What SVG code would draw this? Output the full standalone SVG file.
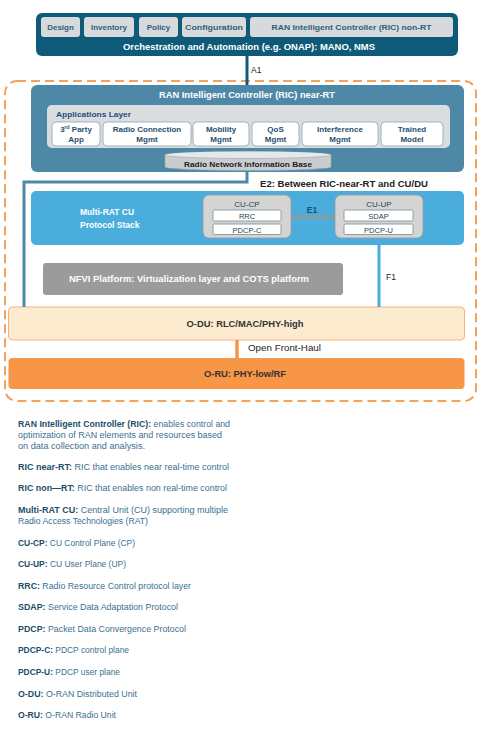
<svg xmlns="http://www.w3.org/2000/svg" width="482" height="731" viewBox="0 0 482 731">
<style>
text{font-family:"Liberation Sans",Arial,sans-serif;}
.b{font-weight:bold;}
.top{fill:#0f5a78;}
.gbox{fill:#d6dadd;}
.gt{fill:#2f5f78;font-size:8px;font-weight:bold;text-anchor:middle;}
.wt{fill:#ffffff;font-weight:bold;}
.app{fill:#ffffff;stroke:#8fa3ae;stroke-width:0.8;}
.at{fill:#1f4e6e;font-size:8px;font-weight:bold;text-anchor:middle;}
.sub{fill:#ffffff;stroke:#7a8a94;stroke-width:0.8;}
.st{fill:#2a3f50;font-size:7.5px;text-anchor:middle;}
.cu{fill:#d4d4d4;stroke:#9a9a9a;stroke-width:0.8;}
.lt{font-size:8.3px;fill:#3b6f8f;}
.lb{font-weight:bold;fill:#1b4e6a;}
.lbl{font-size:8.5px;fill:#222;font-weight:bold;}
</style>
<rect x="0" y="0" width="482" height="731" fill="#ffffff"/>

<!-- dashed boundary -->
<rect x="5" y="81" width="471" height="320" rx="12" fill="none" stroke="#f0a35e" stroke-width="2" stroke-dasharray="9,5"/>

<g id="orchestration">
  <rect x="36" y="13" width="422" height="43" rx="6" class="top"/>
  <rect x="41" y="17" width="39" height="20" rx="3" class="gbox"/>
  <rect x="84" y="17" width="50" height="20" rx="3" class="gbox"/>
  <rect x="139" y="17" width="39" height="20" rx="3" class="gbox"/>
  <rect x="182" y="17" width="64" height="20" rx="3" class="gbox"/>
  <rect x="250" y="17" width="203" height="20" rx="3" class="gbox"/>
  <text x="60.5" y="30" class="gt">Design</text>
  <text x="109" y="30" class="gt">Inventory</text>
  <text x="158.5" y="30" class="gt">Policy</text>
  <text x="214" y="30" class="gt" textLength="58" lengthAdjust="spacingAndGlyphs">Configuration</text>
  <text x="351.5" y="30" class="gt" textLength="160" lengthAdjust="spacingAndGlyphs">RAN Intelligent Controller (RIC) non-RT</text>
  <text x="249" y="50" class="wt" font-size="8.5" text-anchor="middle" textLength="252" lengthAdjust="spacingAndGlyphs">Orchestration and Automation (e.g. ONAP): MANO, NMS</text>
</g>

<g id="ric-near-rt">
  <rect x="31" y="85" width="433" height="87" rx="6" fill="#4d88a6"/>
  <text x="247" y="98" class="wt" font-size="8.5" text-anchor="middle" textLength="176" lengthAdjust="spacingAndGlyphs">RAN Intelligent Controller (RIC) near-RT</text>
  <rect x="47" y="105" width="403" height="43" rx="5" fill="#d9dde0"/>
  <text x="56" y="117" font-size="8" font-weight="bold" fill="#1f4e79" textLength="75" lengthAdjust="spacingAndGlyphs">Applications Layer</text>
  <rect x="52" y="122" width="48" height="24" rx="4" class="app"/>
  <rect x="103" y="122" width="88" height="24" rx="4" class="app"/>
  <rect x="193" y="122" width="56" height="24" rx="4" class="app"/>
  <rect x="252" y="122" width="47" height="24" rx="4" class="app"/>
  <rect x="302" y="122" width="76" height="24" rx="4" class="app"/>
  <rect x="381" y="122" width="62" height="24" rx="4" class="app"/>
  <text x="76" y="132" class="at">3<tspan font-size="5" dy="-3">rd</tspan><tspan dy="3"> Party</tspan></text>
  <text x="76" y="142" class="at">App</text>
  <text x="147" y="132" class="at">Radio Connection</text>
  <text x="147" y="142" class="at">Mgmt</text>
  <text x="221" y="132" class="at">Mobility</text>
  <text x="221" y="142" class="at">Mgmt</text>
  <text x="275.5" y="132" class="at">QoS</text>
  <text x="275.5" y="142" class="at">Mgmt</text>
  <text x="340" y="132" class="at">Interference</text>
  <text x="340" y="142" class="at">Mgmt</text>
  <text x="412" y="132" class="at">Trained</text>
  <text x="412" y="142" class="at">Model</text>
</g>

<g id="rnib">
  <path d="M165,155 A83,3.5 0 0 1 331,155 L331,167 A83,3.5 0 0 1 165,167 Z" fill="#c9cdd0" stroke="#9aa4aa" stroke-width="0.6"/>
  <path d="M165,155 A83,3.5 0 0 1 331,155 A83,3.5 0 0 1 165,155 Z" fill="#e6e8ea"/>
  <path d="M165,155 A83,3.5 0 0 0 331,155" fill="none" stroke="#9aa4aa" stroke-width="0.6"/>
  <text x="248" y="167" font-size="7.5" font-weight="bold" fill="#222" text-anchor="middle" textLength="128" lengthAdjust="spacingAndGlyphs">Radio Network Information Base</text>
</g>

<g id="multi-rat-cu">
  <rect x="31" y="191" width="433" height="54" rx="5" fill="#4aaddb"/>
  <text x="80" y="215" class="wt" font-size="8.5">Multi-RAT CU</text>
  <text x="80" y="228" class="wt" font-size="8.5">Protocol Stack</text>
</g>

<g id="cu-cp">
  <rect x="203" y="195" width="88" height="43" rx="6" class="cu"/>
  <text x="247" y="207" font-size="8" fill="#2a3f50" text-anchor="middle">CU-CP</text>
  <rect x="213" y="210" width="68" height="11" rx="1.5" class="sub"/>
  <text x="247" y="219" class="st">RRC</text>
  <rect x="213" y="224" width="68" height="10.5" rx="1.5" class="sub"/>
  <text x="247" y="232.5" class="st">PDCP-C</text>
</g>

<g id="cu-up">
  <rect x="335" y="195" width="88" height="43" rx="6" class="cu"/>
  <text x="379" y="207" font-size="8" fill="#2a3f50" text-anchor="middle">CU-UP</text>
  <rect x="344" y="210" width="69" height="11" rx="1.5" class="sub"/>
  <text x="378.5" y="219" class="st">SDAP</text>
  <rect x="344" y="224" width="69" height="10.5" rx="1.5" class="sub"/>
  <text x="378.5" y="232.5" class="st">PDCP-U</text>
</g>

<g id="nfvi">
  <rect x="43" y="263" width="300" height="32" rx="3" fill="#9b9b9b"/>
  <text x="189" y="282" class="wt" font-size="8.5" text-anchor="middle" textLength="240" lengthAdjust="spacingAndGlyphs">NFVI Platform: Virtualization layer and COTS platform</text>
</g>

<g id="o-du">
  <rect x="8.5" y="307" width="456" height="33" rx="4" fill="#fdebd0" stroke="#f4b183" stroke-width="1"/>
  <text x="245" y="327" font-size="8.5" font-weight="bold" fill="#333" text-anchor="middle" textLength="117" lengthAdjust="spacingAndGlyphs">O-DU: RLC/MAC/PHY-high</text>
</g>

<g id="o-ru">
  <rect x="8.5" y="358" width="456" height="31" rx="4" fill="#f79646"/>
  <text x="245" y="377" font-size="8.5" font-weight="bold" fill="#333" text-anchor="middle" textLength="82" lengthAdjust="spacingAndGlyphs">O-RU: PHY-low/RF</text>
</g>

<g id="connectors">
  <line x1="247" y1="56" x2="247" y2="85" stroke="#0f5a78" stroke-width="3"/>
  <polyline points="247,172 247,182 24,182 24,307" fill="none" stroke="#4d88a6" stroke-width="3"/>
  <line x1="379" y1="245" x2="379" y2="307" stroke="#4aaddb" stroke-width="3"/>
  <line x1="291" y1="217" x2="335" y2="217" stroke="#8a9ba5" stroke-width="3.5"/>
  <line x1="237" y1="340" x2="237" y2="358" stroke="#f79646" stroke-width="3.5"/>
  <text x="251" y="73" font-size="8.5" fill="#222">A1</text>
  <text x="260" y="187" class="lbl" textLength="168" lengthAdjust="spacingAndGlyphs">E2: Between RIC-near-RT and CU/DU</text>
  <text x="312" y="213" font-size="8.5" font-weight="bold" fill="#1f4e79" text-anchor="middle">E1</text>
  <text x="386" y="280" font-size="8.5" fill="#222">F1</text>
  <text x="248" y="351" font-size="8.5" fill="#222" textLength="73" lengthAdjust="spacingAndGlyphs">Open Front-Haul</text>
</g>

<g id="legend">
  <text x="18" y="427" class="lt" textLength="212" lengthAdjust="spacingAndGlyphs"><tspan class="lb">RAN Intelligent Controller (RIC):</tspan> enables control and</text>
  <text x="18" y="438" class="lt" textLength="204" lengthAdjust="spacingAndGlyphs">optimization of RAN elements and resources based</text>
  <text x="18" y="449" class="lt" textLength="127" lengthAdjust="spacingAndGlyphs">on  data collection and analysis.</text>
  <text x="18" y="470" class="lt" textLength="211" lengthAdjust="spacingAndGlyphs"><tspan class="lb">RIC near-RT:</tspan>  RIC that enables near real-time control</text>
  <text x="18" y="491" class="lt" textLength="209" lengthAdjust="spacingAndGlyphs"><tspan class="lb">RIC non—RT:</tspan> RIC that enables non real-time control</text>
  <text x="18" y="513" class="lt" textLength="210" lengthAdjust="spacingAndGlyphs"><tspan class="lb">Multi-RAT CU:</tspan> Central Unit (CU) supporting multiple</text>
  <text x="18" y="524" class="lt" textLength="130" lengthAdjust="spacingAndGlyphs">Radio Access Technologies (RAT)</text>
  <text x="18" y="546" class="lt" textLength="117" lengthAdjust="spacingAndGlyphs"><tspan class="lb">CU-CP:</tspan> CU Control Plane (CP)</text>
  <text x="18" y="567" class="lt" textLength="108" lengthAdjust="spacingAndGlyphs"><tspan class="lb">CU-UP:</tspan> CU User Plane (UP)</text>
  <text x="18" y="589" class="lt" textLength="173" lengthAdjust="spacingAndGlyphs"><tspan class="lb">RRC:</tspan> Radio Resource Control protocol layer</text>
  <text x="18" y="610" class="lt" textLength="160" lengthAdjust="spacingAndGlyphs"><tspan class="lb">SDAP:</tspan> Service Data Adaptation Protocol</text>
  <text x="18" y="632" class="lt" textLength="168" lengthAdjust="spacingAndGlyphs"><tspan class="lb">PDCP:</tspan>  Packet Data Convergence  Protocol</text>
  <text x="18" y="653" class="lt" textLength="111" lengthAdjust="spacingAndGlyphs"><tspan class="lb">PDCP-C:</tspan> PDCP control plane</text>
  <text x="18" y="675" class="lt" textLength="102" lengthAdjust="spacingAndGlyphs"><tspan class="lb">PDCP-U:</tspan> PDCP user plane</text>
  <text x="18" y="697" class="lt" textLength="119" lengthAdjust="spacingAndGlyphs"><tspan class="lb">O-DU:</tspan> O-RAN Distributed Unit</text>
  <text x="18" y="718" class="lt" textLength="98" lengthAdjust="spacingAndGlyphs"><tspan class="lb">O-RU:</tspan> O-RAN Radio Unit</text>
</g>
</svg>
